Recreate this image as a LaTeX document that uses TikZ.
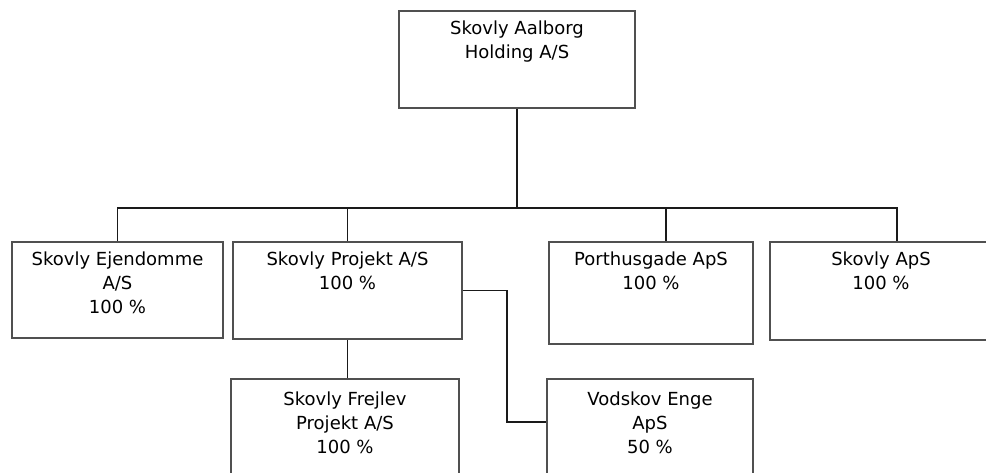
\documentclass[tikz,border=0pt]{standalone}
\usepackage{fontspec}
\setmainfont{DejaVu Sans}
\usepackage{xcolor}
\usepackage{tikz}
\usetikzlibrary{positioning,calc}
\definecolor{edge}{HTML}{505050}
\definecolor{wire}{HTML}{1A1A1A}

\begin{document}
\begin{tikzpicture}[x=1pt,y=1pt,
  unit/.style={draw=edge,line width=2pt,fill=white,inner sep=0pt},
  utext/.style={anchor=north,align=center,inner sep=0pt,yshift=-11pt,
    font=\fontsize{18}{24}\selectfont},
  link/.style={wire,line width=1.7pt}]
\useasboundingbox (0,0) rectangle (986,-472);
\clip (0,0) rectangle (986,-472);
% boxes
\node[unit,minimum width=236,minimum height=97,
  label={[utext]north:Skovly Aalborg\\Holding A/S}] (hold) at (517,-59.5) {};
\node[unit,minimum width=211,minimum height=96,
  label={[utext]north:Skovly Ejendomme\\A/S\\100 \%}] (ejd) at (117.5,-290) {};
\node[unit,minimum width=229,minimum height=97,
  label={[utext]north:Skovly Projekt A/S\\100 \%}] (proj) at (347.5,-290.5) {};
\node[unit,minimum width=204,minimum height=102,
  label={[utext]north:Porthusgade ApS\\100 \%}] (port) at (651,-293) {};
\node[unit,minimum width=222,minimum height=98,
  label={[utext]north:Skovly ApS\\100 \%}] (aps) at (881,-291) {};
\node[unit,minimum width=228,minimum height=100,
  label={[utext,yshift=-3pt]north:Skovly Frejlev\\Projekt A/S\\100 \%}] (frej) at (345,-429) {};
\node[unit,minimum width=206,minimum height=100,
  label={[utext,yshift=-3pt]north:Vodskov Enge\\ApS\\50 \%}] (vod) at (650,-429) {};
% connectors
\draw[link] (hold.south) -- ++(0,-99) coordinate (bus);
\draw[link] (ejd.north) |- (bus) -| ([xshift=16pt]aps.north);
\draw[link] (proj.north) -- (proj.north |- bus);
\draw[link] ([xshift=15pt]port.north) -- ([xshift=15pt]port.north |- bus);
\draw[link] (proj.south) -- (proj.south |- frej.north);
\draw[link] (proj.east) -- ++(44,0) |- ([yshift=-44pt]vod.north west);
\end{tikzpicture}
\end{document}
